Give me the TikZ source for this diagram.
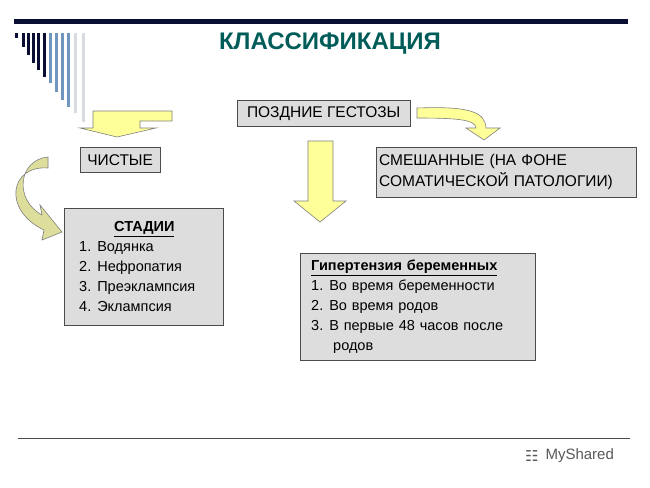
\documentclass[tikz,border=0pt]{standalone}
\usepackage{fontspec}
\setmainfont{Liberation Sans}
\newfontfamily\symfont{DejaVu Sans}
\usetikzlibrary{positioning}

\definecolor{boxgray}{RGB}{221,221,221}
\definecolor{arrowyellow}{RGB}{255,255,153}
\definecolor{titleteal}{RGB}{0,92,88}
\definecolor{barnavy}{RGB}{10,14,50}
\definecolor{stripeblue}{RGB}{110,150,190}
\definecolor{stripegray}{RGB}{215,218,222}
\definecolor{olive}{RGB}{200,200,90}

\begin{document}
\begin{tikzpicture}[x=1pt, y=-1pt]

	\tikzstyle{box}=[draw=black!70, fill=boxgray, anchor=north west, inner sep=5pt, align=left, font=\fontsize{15.5}{21}\selectfont]
	\tikzstyle{bigarrow}=[draw=black!50, fill=arrowyellow, line width=0.6pt]

	\useasboundingbox (0,0) rectangle (650,487);
	\fill[white] (0,0) rectangle (650,487);

	% header
	\fill[barnavy] (14,19) rectangle (628,24);
	\foreach \x/\l/\c in {15/38/barnavy, 22/47/barnavy, 27/55/barnavy, 32/63/barnavy, 37/70/barnavy, 43/77/barnavy, 49/83/stripeblue, 55/92/stripeblue, 61/100/stripeblue, 67/107/stripeblue, 74/113/stripegray, 82/122/stripegray}
		\fill[\c] (\x,33) rectangle ++(2.5,\l-33);
	\node[font=\bfseries\fontsize{24}{28}\selectfont, text=titleteal] (title) at (330,44) {КЛАССИФИКАЦИЯ};

	% boxes
	\node[box, minimum width=173pt, minimum height=26pt, inner sep=3pt] (late) at (237,100) {ПОЗДНИЕ ГЕСТОЗЫ};
	\node[box, minimum width=80pt, minimum height=25pt, inner sep=3pt] (pure) at (80,147) {ЧИСТЫЕ};
	\node[box, text width=254pt, minimum height=50pt, inner sep=3pt] (mixed) at (376,147) {СМЕШАННЫЕ (НА ФОНЕ\\СОМАТИЧЕСКОЙ ПАТОЛОГИИ)};
	\node[box, text width=149pt, minimum height=117pt, font=\fontsize{14.5}{20}\selectfont] (stages) at (64,208) {%
		\hspace*{45pt}\textbf{\underline{СТАДИИ}}\\
		\hspace*{10pt}1.\hspace{6pt}Водянка\\
		\hspace*{10pt}2.\hspace{6pt}Нефропатия\\
		\hspace*{10pt}3.\hspace{6pt}Преэклампсия\\
		\hspace*{10pt}4.\hspace{6pt}Эклампсия};
	\node[box, text width=225pt, minimum height=107pt, font=\fontsize{14.5}{20}\selectfont] (hyper) at (300,253) {%
		\hspace*{6pt}\textbf{\underline{Гипертензия беременных}}\\
		\hspace*{6pt}1.\hspace{6pt}Во время беременности\\
		\hspace*{6pt}2.\hspace{6pt}Во время родов\\
		\hspace*{6pt}3.\hspace{6pt}В первые 48 часов после\\
		\hspace*{28pt}родов};

	% arrows
	\draw[bigarrow] (172,111) -- (172,121) -- (140,121) -- (140,128) -- (156,128) -- (117,137) -- (80,128) -- (93,128) -- (93,111) -- cycle;
	\draw[bigarrow] (417,108) .. controls (470,106) and (485,112) .. (486,128) -- (500,128) -- (484,140) -- (466,128) -- (476,128) .. controls (475,120) and (460,118) .. (417,118) -- cycle;
	\draw[bigarrow] (308,141) -- (333,141) -- (333,201) -- (346,201) -- (320,222) -- (294,201) -- (308,201) -- cycle;
	\draw[bigarrow, fill=olive!60] (48,157) .. controls (18,160) and (14,200) .. (42,215) -- (40,205) -- (62,232) -- (42,240) -- (44,230) .. controls (2,210) and (10,165) .. (48,168) -- cycle;

	% footer
	\draw[black!70, line width=0.8pt] (18,438) -- (630,438);
	\node[font=\fontsize{15}{17}\selectfont, text=black!65, anchor=west] (logo) at (542,456) {MyShared};
	\node[font=\symfont\fontsize{15}{17}\selectfont, text=black!65, left=0pt of logo] (icon) {\char"2637};

\end{tikzpicture}
\end{document}
